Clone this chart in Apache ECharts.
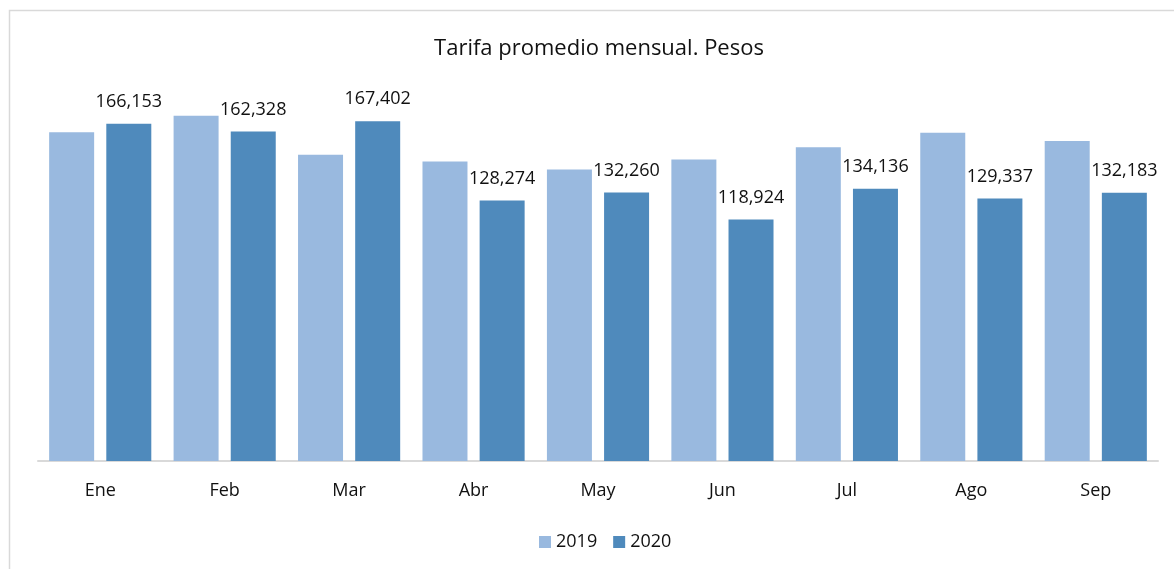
<!DOCTYPE html>
<html>
<head>
<meta charset="utf-8">
<script src="https://cdn.jsdelivr.net/npm/echarts@6/dist/echarts.min.js"></script>
<style>
  html, body { margin: 0; padding: 0; background: #fff; }
  #chart { width: 1174px; height: 569px; }
</style>
</head>
<body>
<div id="chart"></div>
<script>
const months = ['Ene', 'Feb', 'Mar', 'Abr', 'May', 'Jun', 'Jul', 'Ago', 'Sep']
// 2019 has no labels in the picture
const tarifa2019 = [161900, 170100, 150900, 147500, 143550, 148500, 154500, 161750, 157630]
const tarifa2020 = [166153, 162328, 167402, 128274, 132260, 118924, 134136, 129337, 132183]

const font = "'Open Sans', 'Noto Sans', sans-serif"
const chart = echarts.init(document.getElementById('chart'))

chart.setOption({
  animation: false,
  textStyle: { fontFamily: font },
  title: {
    text: 'Tarifa promedio mensual. Pesos',
    left: 594,
    textAlign: 'center',
    top: 33,
    textStyle: { fontSize: 22, fontWeight: 'normal', color: '#111', fontFamily: font }
  },
  graphic: [{
    type: 'rect',
    shape: { x: 9.5, y: 10.5, width: 1180, height: 600 },
    style: { fill: 'none', stroke: '#d9d9d9', lineWidth: 1.5 },
    silent: true
  }],
  legend: {
    top: 528,
    left: 534,
    itemWidth: 12,
    itemHeight: 12,
    itemGap: 16,
    icon: 'rect',
    textStyle: { fontSize: 18, color: '#111', fontFamily: font },
    data: ['2019', '2020']
  },
  grid: { left: 38, right: 16, top: 55, bottom: 108 },
  xAxis: {
    type: 'category',
    data: months,
    axisLine: { lineStyle: { color: '#d9d9d9', width: 2 } },
    axisTick: { show: false },
    axisLabel: { fontSize: 18, color: '#111', margin: 21, fontFamily: font }
  },
  yAxis: {
    type: 'value',
    min: 0,
    max: 200000,
    show: false,
    splitLine: { show: false }
  },
  series: [
    {
      name: '2019',
      type: 'bar',
      data: tarifa2019,
      barWidth: 45,
      barGap: '27%',
      itemStyle: { color: '#99B9DF' }
    },
    {
      name: '2020',
      type: 'bar',
      data: tarifa2020,
      barWidth: 45,
      itemStyle: { color: '#4F8ABC' },
      label: {
        show: true,
        position: 'top',
        distance: 13,
        fontSize: 18,
        color: '#111',
        fontFamily: font,
        formatter: p => p.value.toLocaleString('en-US')
      }
    }
  ]
})
</script>
</body>
</html>
